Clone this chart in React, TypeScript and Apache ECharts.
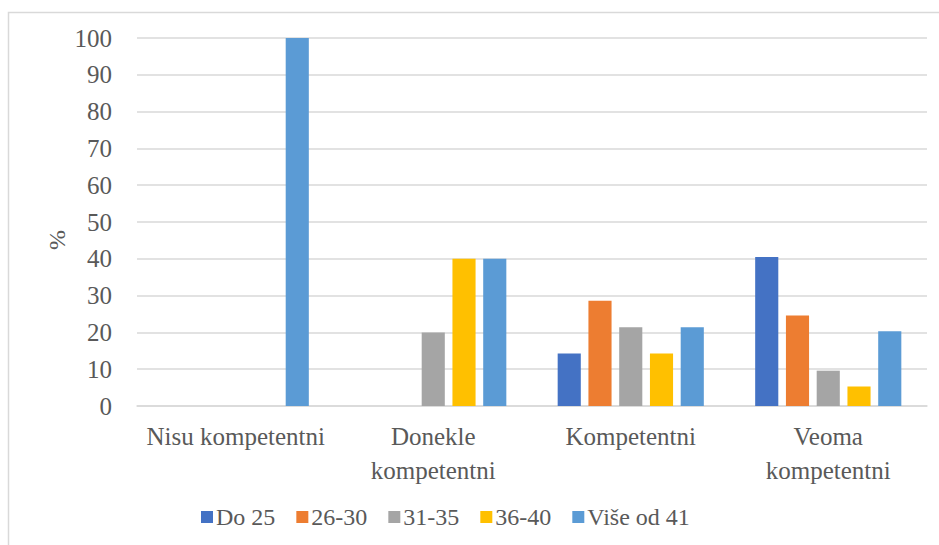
import React, { useEffect, useRef } from "react";
import * as echarts from "echarts";

const categories = ["Nisu kompetentni", "Donekle\nkompetentni", "Kompetentni", "Veoma\nkompetentni"];
const seriesNames = ["Do 25", "26-30", "31-35", "36-40", "Više od 41"];
const do25 = [0, 0, 14.3, 40.5];
const s26_30 = [0, 0, 28.6, 24.6];
const s31_35 = [0, 20, 21.4, 9.6];
const s36_40 = [0, 40, 14.3, 5.3];
const vise41 = [100, 40, 21.4, 20.3];
const colors = ["#4472C4", "#ED7D31", "#A5A5A5", "#FFC000", "#5B9BD5"];

const FONT = "Liberation Serif";
const TEXT = "#595959";

export default function App() {
  const ref = useRef<HTMLDivElement>(null);
  useEffect(() => {
    if (!ref.current) return;
    const chart = echarts.init(ref.current, undefined, { renderer: "svg" });
    const values = [do25, s26_30, s31_35, s36_40, vise41];
    chart.setOption({
      animation: false,
      color: colors,
      textStyle: { fontFamily: FONT },
      grid: { left: 137, right: 12, top: 38, bottom: 139, containLabel: false },
      graphic: [
        {
          type: "rect",
          shape: { x: 8.5, y: 12.5, width: 960, height: 560 },
          style: { fill: "none", stroke: "#d9d9d9", lineWidth: 1.5 },
          silent: true,
        },
        {
          type: "text",
          x: 57,
          y: 240,
          rotation: Math.PI / 2,
          style: {
            text: "%",
            fontFamily: FONT,
            fontSize: 24,
            fill: TEXT,
            align: "center",
            verticalAlign: "middle",
          },
        },
      ],
      legend: {
        left: 196,
        top: 500,
        itemWidth: 12,
        itemHeight: 12,
        itemGap: 21,
        icon: "rect",
        data: seriesNames,
        textStyle: { fontFamily: FONT, fontSize: 24, color: TEXT, padding: [0, 0, 0, -2] },
      },
      xAxis: {
        type: "category",
        data: categories,
        axisTick: { show: false },
        axisLine: { lineStyle: { color: "#d9d9d9", width: 1.5 } },
        axisLabel: {
          fontFamily: FONT,
          fontSize: 25,
          color: TEXT,
          margin: 13,
          lineHeight: 34,
          interval: 0,
        },
      },
      yAxis: {
        type: "value",
        min: 0,
        max: 100,
        interval: 10,
        axisLine: { show: false },
        axisTick: { show: false },
        splitLine: { lineStyle: { color: "#d9d9d9", width: 1.5 } },
        axisLabel: { fontFamily: FONT, fontSize: 25, color: TEXT, margin: 25 },
      },
      series: seriesNames.map((name, i) => ({
        name,
        type: "bar",
        data: values[i],
        barGap: "33%",
        barCategoryGap: "26%",
        itemStyle: { color: colors[i] },
      })),
    });
    return () => chart.dispose();
  }, []);
  return (
    <div
      ref={ref}
      style={{ position: "absolute", left: 0, top: 0, width: 939, height: 545, background: "#fff" }}
    />
  );
}
